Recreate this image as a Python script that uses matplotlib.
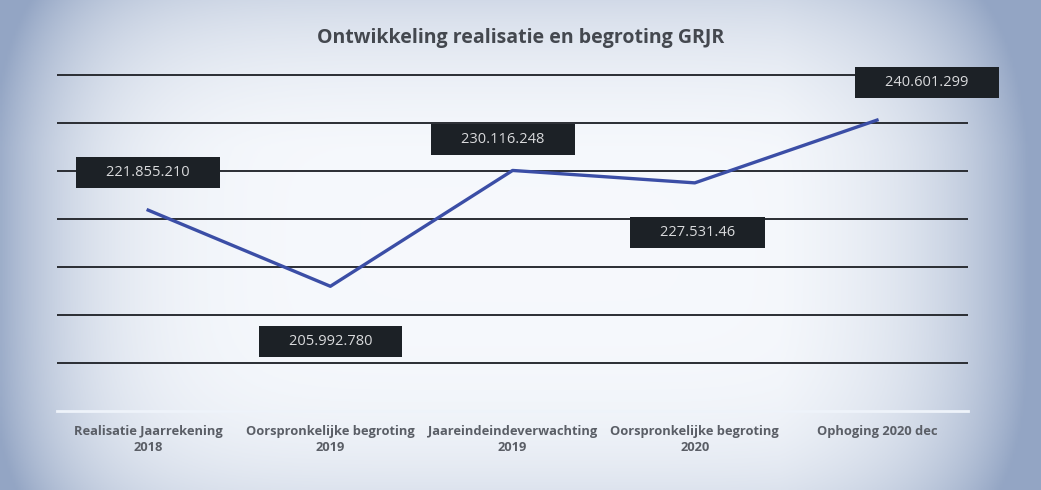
import numpy as np
import matplotlib
matplotlib.use('Agg')
import matplotlib.pyplot as plt

# Data
categories = ['Realisatie Jaarrekening\n2018', 'Oorspronkelijke begroting\n2019',
              'Jaareindeindeverwachting\n2019', 'Oorspronkelijke begroting\n2020',
              'Ophoging 2020 dec']
values = [221855210, 205992780, 230116248, 227531460, 240601299]
value_labels = ['221.855.210', '205.992.780', '230.116.248', '227.531.46', '240.601.299']
grid_levels = [190e6, 200e6, 210e6, 220e6, 230e6, 240e6, 250e6]

# label offsets in points (dx, dy) relative to the data point
label_offsets = [(0, 27), (0, -40), (-7, 22), (2, -36), (36, 27)]

plt.rcParams['font.family'] = ['Open Sans', 'DejaVu Sans']

fig = plt.figure(figsize=(10.41, 4.9), dpi=100)

# scanned-paper background
bg = fig.add_axes([0, 0, 1, 1], zorder=-1)
xx, yy = np.meshgrid(np.linspace(-1, 1, 400), np.linspace(-1, 1, 200))
d = np.clip((np.abs(xx) ** 6) * 0.9 + (np.abs(yy) ** 4) * 0.25
            + 0.45 * np.clip(xx - 0.5, 0, None) + 0.2 * np.clip(-yy - 0.4, 0, None), 0, 1)
center = np.array([0.965, 0.975, 0.99])
edge = np.array([0.58, 0.65, 0.77])
img = center[None, None, :] * (1 - d[..., None]) + edge[None, None, :] * d[..., None]
bg.imshow(img, aspect='auto', extent=[0, 1, 0, 1])
bg.axis('off')

ax = fig.add_axes([0.0548, 0.161, 0.8752, 0.686])
ax.patch.set_alpha(0)
x = np.arange(len(categories))
ax.set_xlim(-0.5, len(categories) - 0.5)
ax.set_ylim(180e6, 250e6)

ax.hlines(grid_levels, -0.5, len(categories) - 0.5, colors='#2a2d33', linewidth=1.4,
          clip_on=False, zorder=1)
ax.axhline(180e6, color='#eef3fa', linewidth=2, clip_on=False, zorder=1)

ax.plot(x, values, color='#3b4ea6', linewidth=2.4, zorder=3)

pad = '\u2003\u2002'
for xi, v, lab, (dx, dy) in zip(x, values, value_labels, label_offsets):
    ax.annotate(pad + lab + pad, (xi, v), xytext=(dx, dy), textcoords='offset points',
                ha='center', va='center', fontsize=10.5, color='#d9dadc',
                bbox=dict(boxstyle='square,pad=0.55', fc='#1c2126', ec='none'),
                zorder=4)

ax.set_xticks(x)
ax.set_xticklabels(categories, fontsize=9.3, fontweight='bold', color='#5a5e66',
                   linespacing=1.35)
ax.tick_params(axis='x', length=0, pad=10)
ax.set_yticks([])
for s in ax.spines.values():
    s.set_visible(False)

fig.text(0.5, 0.922, 'Ontwikkeling realisatie en begroting GRJR', ha='center',
         va='center', fontsize=14, fontweight='bold', color='#44484f')

fig.savefig('out.png', dpi=100)
